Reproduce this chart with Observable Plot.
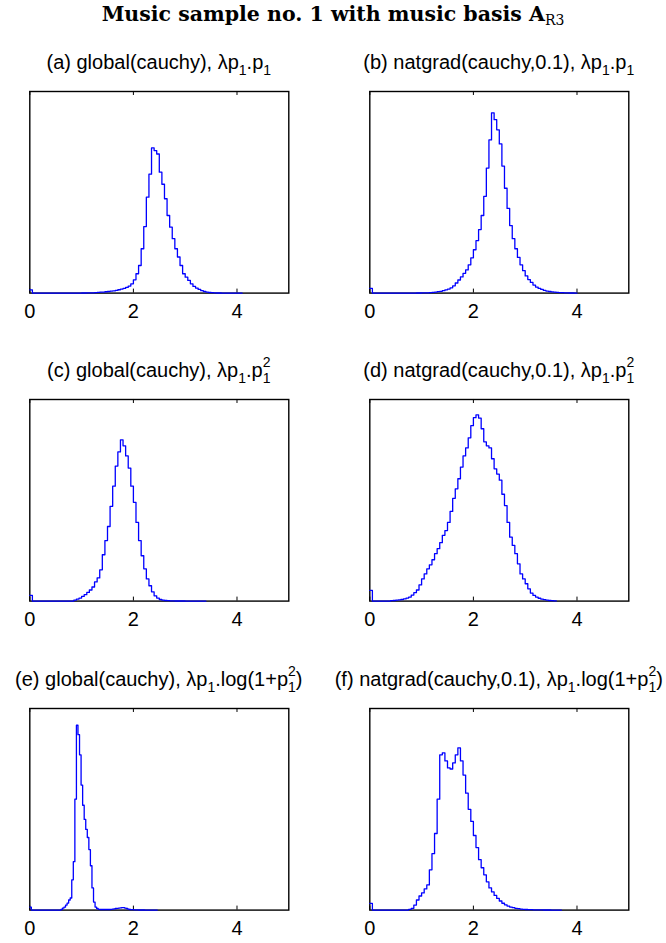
<!DOCTYPE html>
<html><head><meta charset="utf-8">
<script src="https://cdn.jsdelivr.net/npm/d3@7"></script>
<script src="https://cdn.jsdelivr.net/npm/@observablehq/plot@0.6"></script>
<style>
body{margin:0;background:#fff}
#fig{position:relative;width:666px;height:943px;background:#fff;overflow:hidden}
#fig svg{position:absolute;overflow:visible}
.main{position:absolute;left:0;width:666px;text-align:center;font-family:"DejaVu Serif",serif;font-weight:bold;font-size:20.5px;line-height:1;white-space:nowrap}
.main .ms{font-weight:normal;font-size:14px;position:relative;top:4px;font-family:"DejaVu Serif",serif}
.pt{position:absolute;font-family:"Liberation Sans",Arial,sans-serif;font-size:20px;line-height:1;white-space:nowrap;transform:translateX(-50%)}
.sb{font-size:14px;position:relative;top:6px}
.st{position:relative;display:inline-block;font-size:14px;line-height:1}
.st .lo{position:relative;top:6px}
.st .hi{position:absolute;left:0;top:-9.5px}
</style>
</head><body>
<div id="fig"></div>
<script>
// x axis ticks
const xTicks = [0, 2, 4];
// Histogram heights, in % of the axes height, one value per bin from x = 0
const aWidth = 0.05;
const aCounts = [1.6,
  0,0,0,0,0,0,0,0,0,0,0,0,0,0,0,0,0,0,0,
  0.05,0.05,0.1,0.1,0.15, 0.2,0.35,0.45,0.5,0.66,
  0.8,1.0,1.1,1.3,1.65, 2.0,2.3,2.8,3.5,4.6,
  6.6,9.6,13.7,22,33, 47.6,59,72,70.7,69,
  60,54,46.8,38.5,32.7, 27,22,17.9,13.7,9.6,
  7.9,6.3,4.6,3.3,2.5, 1.8,1.2,0.8,0.5,0.3,
  0.2,0.1,0.05,0.05,0, 0,0,0,0,0,0,0];
const bWidth = 0.05;
const bCounts = [2.3,
  0,0,0,0,0,0,0,0,0,0,0,0,0,0,0,0,0,
  0.05,0.05,
  0.1,0.1,0.15,0.25,0.35, 0.5,0.7,0.9,1.2,1.6,
  2.0,2.6,3.6,5.0,6.5, 8.0,9.8,11.5,14,17.5,
  21.5,26,31.5,38.5,48, 62,76,89.4,86,81,
  74,63,52,42,33.5, 27,22,17.7,14,11.1,
  8.5,6.7,5.3,4.0,3.0, 2.3,1.8,1.3,1.0,0.8,
  0.6,0.45,0.35,0.25,0.2, 0.15,0.1,0.05,0.05,0];
const cWidth = 0.05;
const cCounts = [2.8,
  0,0,0,0,0,0,0,0,0,0,0,0,0,0,0,0,
  0.5,1.0,1.5,
  2.3,3.2,4.3,5.5,7, 9.5,11.5,15.5,23,30,
  37,47,57,67,74, 80,77,72,66,57,
  49,39,30,22.5,16, 11,7.6,4.6,2.6,1.5,
  0.8,0.5,0.3,0.2,0.15, 0.1,0.05,0.05,0.05,0.05,
  0,0,0,0,0,0,0,0];
const dWidth = 0.05;
const dCounts = [5.3,
  0,0,0,0,0,0,0,
  0.2,0.3,
  0.5,0.6,0.8,1.1,1.5, 2,3,4.2,5.5,8,
  11,13.5,16,18,20.5, 23.5,26,29,32.6,35,
  39,44.5,51,55.7,60.7, 66.5,72,76,81,87,
  91,92.4,90.8,85.5,79, 77,76,70.6,65.6,63,
  60,53,47.4,39,31.7, 27.6,23.5,18.5,13.5,11,
  8.6,6.1,4,2.8,2, 1.4,1,0.7,0.5,0.3,
  0.2,0.1];
const eWidth = 0.03;
const eCounts = [1.5,
  0,0,0,0,0,0,0,0,0,0,0,0,0,0,0,0,0,0,0,
  0.3,1.0,1.5,2.5,3.5, 5,6,15,24,55,
  91.7,87,77,62,52, 45,40,36,30,22,
  11,4,1.5,0.8,0.4, 0.3,0.3,0.3,0.3,0.3,
  0.3,0.3,0.4,0.5,0.6, 0.8,0.9,1.0,1.1,1.2,
  1.2,1.0,0.8,0.5,0.3, 0.2,0.2,0.15,0.1,0.1,
  0.05,0.05,0.05,0.05,0, 0,0,0,0,0,0,0];
const fWidth = 0.05;
const fCounts = [3.3,
  0,0,0,0,0,0,0,0,0,0,0,0,0,0,
  0.4,0.9,2.5,5,7,
  8.5,10.5,12.5,20,28, 38,55,77,78,74,
  70.5,70,73,77,80.5, 74,67,58,50,44,
  37,31,25,21,17.5, 14,11,9,7.3,5.8,
  4.5,3.4,2.6,2,1.5, 1.2,0.9,0.7,0.5,0.4,
  0.3,0.25,0.2,0.15,0.15, 0.1,0.1,0.05,0.05,0.05,
  0,0,0,0];

const titles = [
  '(a) global(cauchy), λp<span class="sb">1</span>.p<span class="sb">1</span>',
  '(b) natgrad(cauchy,0.1), λp<span class="sb">1</span>.p<span class="sb">1</span>',
  '(c) global(cauchy), λp<span class="sb">1</span>.p<span class="st"><span class="lo">1</span><span class="hi">2</span></span>',
  '(d) natgrad(cauchy,0.1), λp<span class="sb">1</span>.p<span class="st"><span class="lo">1</span><span class="hi">2</span></span>',
  '(e) global(cauchy), λp<span class="sb">1</span>.log(1+p<span class="st"><span class="lo">1</span><span class="hi">2</span></span>)',
  '(f) natgrad(cauchy,0.1), λp<span class="sb">1</span>.log(1+p<span class="st"><span class="lo">1</span><span class="hi">2</span></span>)'
];
const series = [
  [aWidth, aCounts], [bWidth, bCounts], [cWidth, cCounts],
  [dWidth, dCounts], [eWidth, eCounts], [fWidth, fCounts]
];

const fig = document.getElementById("fig");
const main = document.createElement("div");
main.className = "main";
main.style.top = (21.5 - 17.4) + "px";
main.innerHTML = 'Music sample no. 1 with music basis A<span class="ms">R3</span>';
fig.appendChild(main);

const colLeft = [29.3, 369.3], boxW = 259;
const rowTop = [91, 399, 707.7], boxH = 201.6;
const titleBase = [68.7, 376.7, 685.5];
const mL = 29.3, mR = 35, mT = 10, mB = 40;

series.forEach(([w, counts], i) => {
  const col = i % 2, row = Math.floor(i / 2);
  const bins = counts.map((c, k) => ({x: k * w, y: c}));
  bins.push({x: counts.length * w, y: counts[counts.length - 1]});
  const svg = Plot.plot({
    width: mL + boxW + mR,
    height: mT + boxH + mB,
    marginLeft: mL, marginRight: mR, marginTop: mT, marginBottom: mB,
    x: {domain: [0, 5]},
    y: {domain: [0, 100], axis: null},
    style: {background: "transparent", fontFamily: "'Liberation Sans', Arial, sans-serif", fontSize: "20px", color: "#000", overflow: "visible"},
    marks: [
      Plot.frame({stroke: "#000", strokeWidth: 1.4}),
      Plot.tickX(xTicks, {stroke: "#000", strokeWidth: 1, insetTop: boxH - 4}),
      Plot.tickX(xTicks, {stroke: "#000", strokeWidth: 1, insetBottom: boxH - 4}),
      Plot.lineY(bins, {x: "x", y: "y", curve: "step-after", stroke: "#0000ff", strokeWidth: 1.3}),
      Plot.axisX({ticks: xTicks, tickFormat: d3.format("d"), tickSize: 0, tickPadding: 11, label: null, fill: "#000"})
    ]
  });
  svg.style.left = (colLeft[col] - mL) + "px";
  svg.style.top = (rowTop[row] - mT) + "px";
  fig.appendChild(svg);

  const t = document.createElement("div");
  t.className = "pt";
  t.style.left = (colLeft[col] + boxW / 2) + "px";
  t.style.top = (titleBase[row] - 17) + "px";
  t.innerHTML = titles[i];
  fig.appendChild(t);
});
</script>
</body></html>
